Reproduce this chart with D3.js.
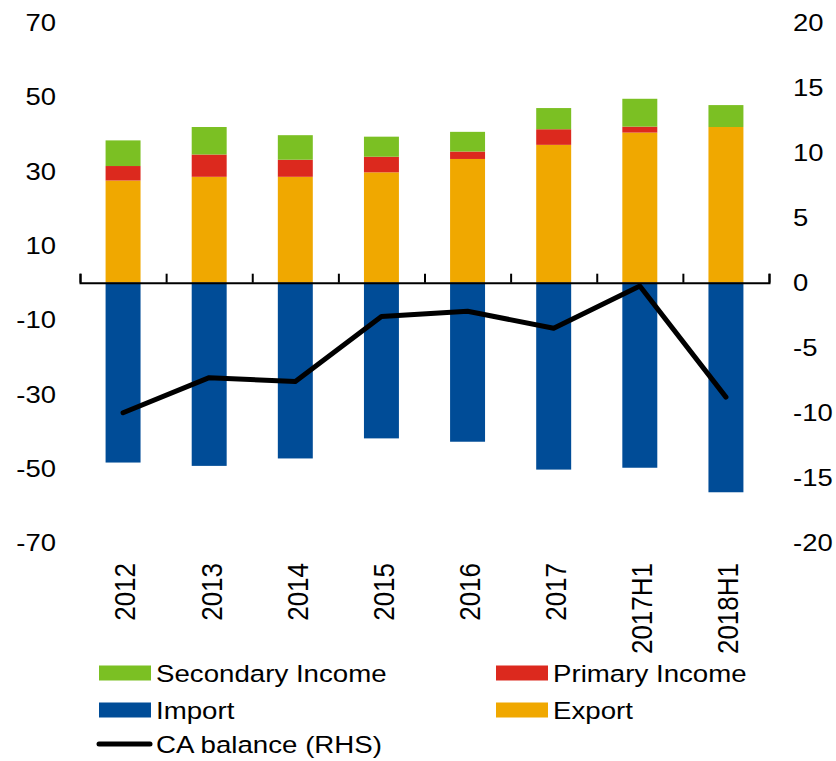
<!DOCTYPE html>
<html>
<head>
<meta charset="utf-8">
<script src="https://cdn.jsdelivr.net/npm/d3@7"></script>
<style>
  body { margin: 0; background: #fff; }
  text { font-family: "Liberation Sans", Arial, sans-serif; fill: #000; }
</style>
</head>
<body>
<svg id="chart" width="836" height="761"></svg>
<script>
// data
const categories = ['2012', '2013', '2014', '2015', '2016', '2017', '2017H1', '2018H1'];
const exportVals = [27.5, 28.5, 28.5, 29.7, 33.3, 37.1, 40.4, 41.9];
const primaryIncome = [3.9, 6.0, 4.6, 4.2, 2.0, 4.2, 1.6, 0];
const secondaryIncome = [6.9, 7.4, 6.6, 5.4, 5.3, 5.7, 7.5, 5.9];
const importVals = [-48.4, -49.3, -47.3, -41.9, -42.8, -50.3, -49.8, -56.4];
const caBalance = [-10.0, -7.3, -7.6, -2.6, -2.2, -3.5, -0.25, -8.8];
const leftTicks = [70, 50, 30, 10, -10, -30, -50, -70];
const rightTicks = [20, 15, 10, 5, 0, -5, -10, -15, -20];

const colors = {
  secondary: '#7bc023',
  primary: '#dc291e',
  import: '#004c97',
  export: '#f0a800'
};

// text in the reference is a bit wider than plain Arial
const stretch = 1.12;

const svg = d3.select('#chart');

const x = d3.scaleBand()
  .domain(categories)
  .range([80, 769])
  .paddingInner(0.594)
  .paddingOuter(0.297);
const yL = d3.scaleLinear().domain([-70, 70]).range([542.8, 22.6]);
const yR = d3.scaleLinear().domain([-20, 20]).range([542.8, 22.6]);

// stacked positive bars: export, primary, secondary
const rows = categories.map((c, i) => ({
  cat: c,
  export: exportVals[i],
  primary: primaryIncome[i],
  secondary: secondaryIncome[i]
}));
const stack = d3.stack().keys(['export', 'primary', 'secondary'])(rows);

svg.append('g').selectAll('g')
  .data(stack)
  .join('g')
  .attr('fill', d => colors[d.key])
  .selectAll('rect')
  .data(d => d)
  .join('rect')
  .attr('x', d => x(d.data.cat))
  .attr('width', x.bandwidth())
  .attr('y', d => yL(d[1]))
  .attr('height', d => Math.max(0, yL(d[0]) - yL(d[1])));

// import bars
svg.append('g').selectAll('rect')
  .data(importVals)
  .join('rect')
  .attr('fill', colors.import)
  .attr('x', (d, i) => x(categories[i]))
  .attr('width', x.bandwidth())
  .attr('y', yL(0))
  .attr('height', d => yL(d) - yL(0));

// category axis at zero with upward ticks at boundaries
const xb = d3.scaleLinear().domain([0, categories.length]).range([80, 769]);
const xAxis = svg.append('g')
  .attr('transform', `translate(0,${yL(0)})`)
  .call(d3.axisBottom(xb).ticks(categories.length).tickSize(-9).tickFormat(''));
xAxis.select('.domain').attr('stroke', '#000').attr('stroke-width', 2);
xAxis.selectAll('.tick line').attr('stroke', '#000').attr('stroke-width', 2);

// CA balance line (right axis)
const line = d3.line()
  .x((d, i) => x(categories[i]) + x.bandwidth() / 2)
  .y(d => yR(d));
svg.append('path')
  .datum(caBalance)
  .attr('fill', 'none')
  .attr('stroke', '#000')
  .attr('stroke-width', 5)
  .attr('stroke-linejoin', 'round')
  .attr('stroke-linecap', 'round')
  .attr('d', line);

// left axis
const left = svg.append('g')
  .attr('transform', 'translate(56,0)')
  .call(d3.axisLeft(yL).tickValues(leftTicks).tickSize(0).tickPadding(0).tickFormat(d => String(d)));
left.select('.domain').remove();
left.selectAll('text')
  .style('font-size', '24.5px')
  .style('font-family', '"Liberation Sans", Arial, sans-serif')
  .attr('transform', `scale(${stretch},1)`);

// right axis
const right = svg.append('g')
  .attr('transform', 'translate(793,0)')
  .call(d3.axisRight(yR).tickValues(rightTicks).tickSize(0).tickPadding(0).tickFormat(d => String(d)));
right.select('.domain').remove();
right.selectAll('text')
  .style('font-size', '24.5px')
  .style('font-family', '"Liberation Sans", Arial, sans-serif')
  .attr('transform', `scale(${stretch},1)`);

// rotated category labels
svg.append('g').selectAll('text')
  .data(categories)
  .join('text')
  .attr('transform', d => `translate(${x(d) + x.bandwidth() / 2},563) rotate(-90) scale(1,${stretch})`)
  .attr('text-anchor', 'end')
  .attr('dy', 11)
  .style('font-size', '26px')
  .text(d => d);

// legend
const legendItems = [
  { label: 'Secondary Income', color: colors.secondary, col: 0, row: 0 },
  { label: 'Primary Income', color: colors.primary, col: 1, row: 0 },
  { label: 'Import', color: colors.import, col: 0, row: 1 },
  { label: 'Export', color: colors.export, col: 1, row: 1 },
  { label: 'CA balance (RHS)', line: true, col: 0, row: 2 }
];
const colX = [99, 496];
const rowY = [673, 710, 744];
const lg = svg.append('g').selectAll('g')
  .data(legendItems)
  .join('g')
  .attr('transform', d => `translate(${colX[d.col]},${rowY[d.row]})`);
lg.filter(d => !d.line).append('rect')
  .attr('x', 0).attr('y', -7.5)
  .attr('width', 52).attr('height', 15)
  .attr('fill', d => d.color);
lg.filter(d => d.line).append('line')
  .attr('x1', 0).attr('x2', 51)
  .attr('stroke', '#000').attr('stroke-width', 5)
  .attr('stroke-linecap', 'round');
lg.append('text')
  .attr('transform', `translate(57,0) scale(${stretch},1)`)
  .attr('dy', '0.35em')
  .style('font-size', '24.7px')
  .text(d => d.label);
</script>
</body>
</html>
